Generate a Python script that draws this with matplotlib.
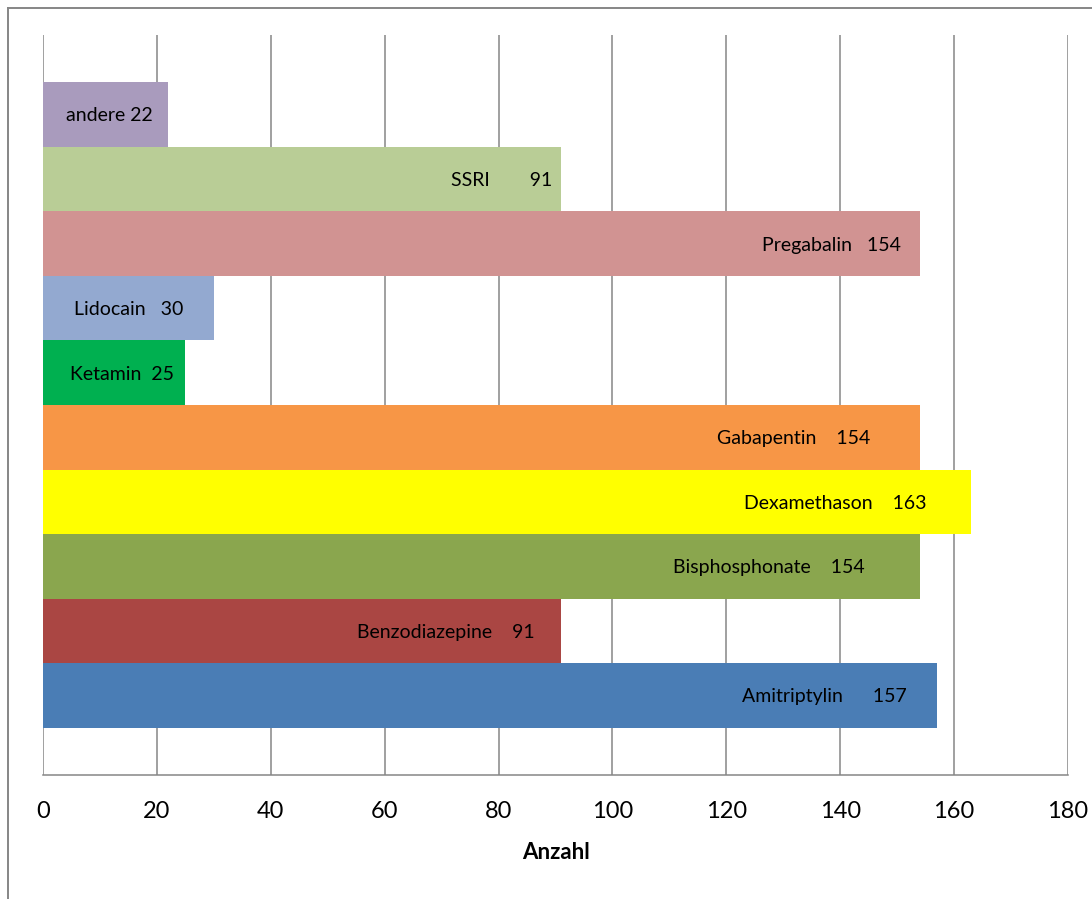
import matplotlib
matplotlib.use("Agg")
import matplotlib.pyplot as plt
from matplotlib.lines import Line2D

# Data (bottom to top)
names = ["Amitriptylin", "Benzodiazepine", "Bisphosphonate", "Dexamethason",
         "Gabapentin", "Ketamin", "Lidocain", "Pregabalin", "SSRI", "andere"]
values = [157, 91, 154, 163, 154, 25, 30, 154, 91, 22]
label_texts = ["Amitriptylin      157", "Benzodiazepine    91", "Bisphosphonate    154",
               "Dexamethason    163", "Gabapentin    154", "Ketamin  25", "Lidocain   30",
               "Pregabalin   154", "SSRI        91", "andere 22"]
xticks = [0, 20, 40, 60, 80, 100, 120, 140, 160, 180]
xlabel = "Anzahl"

colors = ["#4A7DB5", "#AA4643", "#8AA64E", "#FFFF00", "#F79646",
          "#00B050", "#93A9D0", "#D19392", "#B9CD96", "#A99BBD"]
label_x = [137.3, 70.8, 127.4, 139.2, 131.9, 13.9, 15.0, 138.5, 80.6, 11.6]

plt.rcParams['font.family'] = ['Lato', 'DejaVu Sans']

W, H = 1092, 899
fig = plt.figure(figsize=(W / 100, H / 100), dpi=100)
ax = fig.add_axes([43 / W, (H - 775) / H, 1025 / W, 740 / H])

grid_c = "#868686"
n = len(values)
ypos = list(range(n))
ax.barh(ypos, values, height=1.0, color=colors, zorder=3, linewidth=0)

for x in xticks:
    ax.axvline(x, color=grid_c, lw=1.1, zorder=1)

for y, t, lx in zip(ypos, label_texts, label_x):
    ax.text(lx, y - 0.02, t, ha="center", va="center", fontsize=14, color="black", zorder=4)

ax.set_xlim(0, 180)
m = 0.735
ax.set_ylim(-0.5 - m, n - 0.5 + m)
ax.set_xticks(xticks)
ax.set_xticklabels([str(v) for v in xticks], fontsize=17)
ax.set_yticks([])
ax.tick_params(axis="x", length=0, pad=19)
for s in ["top", "right", "left"]:
    ax.spines[s].set_visible(False)
ax.spines["bottom"].set_color(grid_c)
ax.spines["bottom"].set_linewidth(1.1)
ax.set_xlabel(xlabel, fontsize=16, fontweight="bold", labelpad=14)

# outer frame lines (top and left)
fig.add_artist(Line2D([8 / W, 8 / W], [0, 1 - 8 / H], transform=fig.transFigure,
                      color=grid_c, lw=1.4))
fig.add_artist(Line2D([8 / W, 1], [1 - 8 / H, 1 - 8 / H], transform=fig.transFigure,
                      color=grid_c, lw=1.4))

fig.savefig("out.png", dpi=100)
